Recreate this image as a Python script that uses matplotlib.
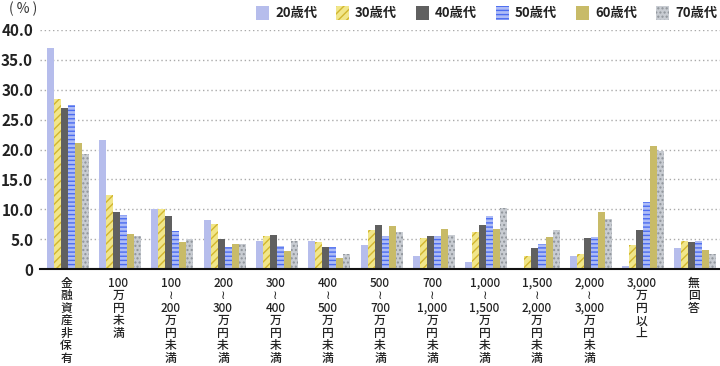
import matplotlib
matplotlib.use("Agg")
import matplotlib.pyplot as plt
from matplotlib.patches import Rectangle
import numpy as np

plt.rcParams['font.family'] = ['Noto Sans CJK JP', 'DejaVu Sans']
plt.rcParams['hatch.linewidth'] = 1.0

categories = [
    "金\n融\n資\n産\n非\n保\n有",
    "100\n万\n円\n未\n満",
    "100\n≀\n200\n万\n円\n未\n満",
    "200\n≀\n300\n万\n円\n未\n満",
    "300\n≀\n400\n万\n円\n未\n満",
    "400\n≀\n500\n万\n円\n未\n満",
    "500\n≀\n700\n万\n円\n未\n満",
    "700\n≀\n1,000\n万\n円\n未\n満",
    "1,000\n≀\n1,500\n万\n円\n未\n満",
    "1,500\n≀\n2,000\n万\n円\n未\n満",
    "2,000\n≀\n3,000\n万\n円\n未\n満",
    "3,000\n万\n円\n以\n上",
    "無\n回\n答",
]

series_labels = ["20歳代", "30歳代", "40歳代", "50歳代", "60歳代", "70歳代"]

age20 = [36.9, 21.6, 10.0, 8.2, 4.7, 4.7, 4.0, 2.2, 1.2, 0.0, 2.2, 0.6, 3.6]
age30 = [28.4, 12.4, 10.0, 7.6, 5.6, 4.6, 6.6, 5.2, 6.2, 2.2, 2.6, 4.0, 4.7]
age40 = [26.9, 9.6, 8.9, 5.0, 5.7, 3.7, 7.4, 5.6, 7.4, 3.6, 5.2, 6.6, 4.6]
age50 = [27.4, 9.1, 6.4, 3.7, 3.9, 3.7, 5.6, 5.6, 8.9, 4.2, 5.4, 11.2, 4.7]
age60 = [21.1, 5.9, 4.6, 4.2, 3.0, 1.9, 7.2, 6.7, 6.7, 5.4, 9.6, 20.6, 3.2]
age70 = [19.2, 5.6, 5.0, 4.2, 4.7, 2.5, 6.2, 5.7, 10.2, 6.6, 8.4, 19.7, 2.5]

series = [age20, age30, age40, age50, age60, age70]

styles = [
    dict(facecolor="#b6bdec", edgecolor="#b6bdec", hatch=None),
    dict(facecolor="#f1e68a", edgecolor="#d2b62e", hatch="////"),
    dict(facecolor="#606060", edgecolor="#606060", hatch=None),
    dict(facecolor="#aebcf6", edgecolor="#4b6cf0", hatch="----"),
    dict(facecolor="#c8bb68", edgecolor="#c8bb68", hatch=None),
    dict(facecolor="#c8ccd2", edgecolor="#8f949a", hatch="...."),
]

fig = plt.figure(figsize=(7.2, 3.66), dpi=100)
ax = fig.add_axes([40/720, 1-269.3/366, 680/720, (269.3-29.7)/366])

n = len(series)
width = 0.134
x = np.arange(len(categories))
offset0 = 0.03
for i, (vals, st) in enumerate(zip(series, styles)):
    pos = x + offset0 + (i - (n-1)/2) * width
    ax.bar(pos, vals, width=width, facecolor=st["facecolor"], edgecolor=st["edgecolor"],
           hatch=st["hatch"], linewidth=0, zorder=3)

ax.set_xlim(-0.5, len(categories) - 0.5)
ax.set_ylim(0, 40)
yt = [0, 5, 10, 15, 20, 25, 30, 35, 40]
ax.set_yticks(yt)
ax.set_yticklabels(["0" if v == 0 else f"{v:.1f}" for v in yt], fontsize=11,
                   fontweight='bold', color="#222222")
for v in yt[1:]:
    ax.axhline(v, color="#aaaaaa", linestyle=(0, (1, 2)), linewidth=1.0, zorder=1)
for s in ["top", "right", "left"]:
    ax.spines[s].set_visible(False)
ax.spines["bottom"].set_color("#111111")
ax.spines["bottom"].set_linewidth(1.5)
ax.spines["bottom"].set_zorder(5)
ax.tick_params(axis="y", length=0, pad=5)
ax.set_xticks(x)
ax.set_xticklabels([])
ax.tick_params(axis="x", length=0)

# vertical stacked category labels, one line at a time
step_pt = 9.0      # 12.5 px
first_pt = -10.0   # center of first line below axis
for xi, cat in zip(x, categories):
    for k, line in enumerate(cat.split("\n")):
        ax.annotate(line, xy=(xi, 0), xycoords=("data", "axes fraction"),
                    xytext=(0, first_pt - step_pt * k), textcoords="offset points",
                    ha="center", va="center", fontsize=8.5, fontweight="medium",
                    color="#222222", annotation_clip=False)

fig.text(9/720, 1-9/366, "( % )", fontsize=10, color="#333333", ha="left", va="center")

# legend
for i, (lab, st) in enumerate(zip(series_labels, styles)):
    x0 = 256 + 80 * i
    r = Rectangle((x0/720, 1-19.5/366), 13/720, 13/366, transform=fig.transFigure,
                  facecolor=st["facecolor"], edgecolor=st["edgecolor"], hatch=st["hatch"],
                  linewidth=0)
    fig.patches.append(r)
    fig.text((x0+19)/720, 1-13/366, lab, fontsize=9.5, fontweight='bold', color="#222222",
             ha="left", va="center")

fig.savefig("out.png", dpi=100)
